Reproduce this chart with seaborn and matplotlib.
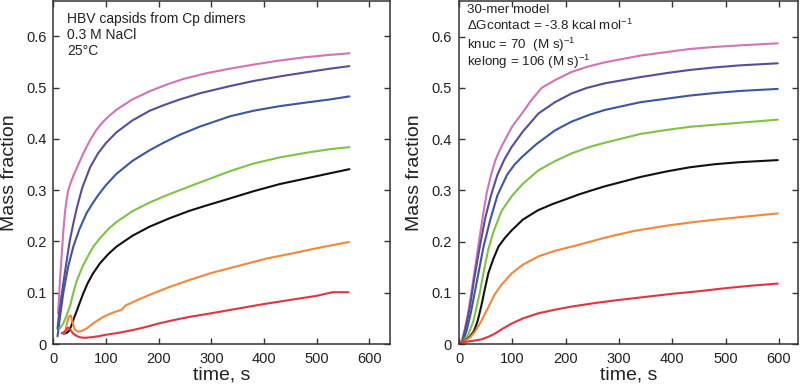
import matplotlib
matplotlib.use("Agg")
import matplotlib.pyplot as plt
from matplotlib.ticker import FuncFormatter
import seaborn as sns

# experiment (left panel): time in s, mass fraction
exp_pink_t = [9, 11, 13, 16, 19, 22, 25, 28, 32, 38, 44, 57, 70, 82, 95, 105, 120, 150, 183, 215, 247, 290, 335, 380, 430, 475, 525, 562]
exp_pink_v = [0.06, 0.095, 0.13, 0.175, 0.22, 0.255, 0.28, 0.298, 0.312, 0.328, 0.342, 0.372, 0.398, 0.418, 0.434, 0.444, 0.457, 0.477, 0.493, 0.506, 0.517, 0.528, 0.537, 0.545, 0.553, 0.559, 0.564, 0.567]
exp_purple_t = [8, 11, 15, 20, 25, 31, 38, 45, 55, 70, 85, 100, 120, 150, 183, 210, 240, 278, 335, 380, 430, 480, 525, 562]
exp_purple_v = [0.03, 0.06, 0.09, 0.125, 0.16, 0.2, 0.235, 0.267, 0.305, 0.345, 0.372, 0.392, 0.413, 0.436, 0.455, 0.466, 0.477, 0.489, 0.503, 0.513, 0.522, 0.530, 0.537, 0.542]
exp_blue_t = [8, 13, 19, 28, 38, 50, 63, 75, 85, 100, 120, 150, 183, 210, 240, 278, 335, 380, 430, 480, 525, 562]
exp_blue_v = [0.015, 0.055, 0.10, 0.15, 0.19, 0.225, 0.255, 0.275, 0.29, 0.31, 0.332, 0.357, 0.378, 0.393, 0.408, 0.424, 0.444, 0.455, 0.464, 0.471, 0.477, 0.483]
exp_green_t = [12, 19, 25, 32, 38, 44, 55, 65, 76, 90, 105, 120, 150, 183, 210, 240, 278, 335, 380, 430, 480, 525, 562]
exp_green_v = [0.03, 0.04, 0.055, 0.075, 0.1, 0.122, 0.15, 0.17, 0.19, 0.208, 0.225, 0.238, 0.259, 0.276, 0.288, 0.30, 0.315, 0.337, 0.352, 0.364, 0.373, 0.380, 0.384]
exp_black_t = [20, 26, 30, 34, 38, 45, 50, 57, 65, 75, 89, 105, 120, 150, 183, 220, 259, 290, 329, 380, 430, 480, 525, 562]
exp_black_v = [0.02, 0.022, 0.026, 0.035, 0.047, 0.066, 0.08, 0.099, 0.118, 0.137, 0.158, 0.176, 0.19, 0.211, 0.229, 0.245, 0.26, 0.27, 0.282, 0.298, 0.312, 0.323, 0.333, 0.341]
exp_orange_t = [16, 22, 26, 29, 33, 37, 41, 47, 55, 63, 78, 95, 110, 130, 137, 160, 183, 220, 259, 298, 350, 406, 450, 501, 561]
exp_orange_v = [0.021, 0.022, 0.04, 0.053, 0.056, 0.04, 0.028, 0.024, 0.026, 0.03, 0.042, 0.053, 0.06, 0.067, 0.075, 0.086, 0.096, 0.111, 0.125, 0.138, 0.152, 0.167, 0.176, 0.187, 0.199]
exp_red_t = [16, 22, 28, 33, 38, 44, 51, 60, 70, 85, 100, 125, 150, 175, 200, 230, 259, 300, 350, 400, 450, 500, 530, 560]
exp_red_v = [0.021, 0.024, 0.032, 0.027, 0.02, 0.016, 0.013, 0.012, 0.013, 0.015, 0.018, 0.022, 0.027, 0.033, 0.040, 0.047, 0.053, 0.06, 0.069, 0.078, 0.086, 0.094, 0.101, 0.101]

# 30-mer model (right panel)
mod_pink_t = [0, 5, 10, 17, 26, 36, 44, 52, 60, 68, 77, 86, 100, 118, 135, 155, 180, 211, 240, 274, 340, 390, 433, 480, 527, 598]
mod_pink_v = [0.002, 0.005, 0.025, 0.06, 0.12, 0.19, 0.245, 0.295, 0.33, 0.358, 0.38, 0.398, 0.425, 0.45, 0.475, 0.50, 0.515, 0.531, 0.541, 0.55, 0.563, 0.570, 0.576, 0.58, 0.583, 0.587]
mod_purple_t = [0, 6, 12, 20, 29, 39, 49, 60, 72, 85, 99, 120, 149, 180, 211, 240, 274, 340, 390, 433, 480, 527, 598]
mod_purple_v = [0.002, 0.005, 0.03, 0.07, 0.13, 0.19, 0.245, 0.29, 0.33, 0.36, 0.385, 0.415, 0.45, 0.472, 0.489, 0.500, 0.509, 0.521, 0.529, 0.535, 0.54, 0.544, 0.548]
mod_blue_t = [0, 7, 14, 22, 34, 46, 58, 72, 90, 104, 118, 145, 180, 211, 246, 274, 340, 390, 433, 480, 527, 598]
mod_blue_v = [0.002, 0.005, 0.025, 0.06, 0.125, 0.19, 0.24, 0.29, 0.33, 0.35, 0.365, 0.39, 0.417, 0.434, 0.448, 0.457, 0.472, 0.479, 0.485, 0.490, 0.494, 0.498]
mod_green_t = [0, 10, 18, 27, 39, 47, 55, 65, 80, 100, 120, 149, 180, 211, 246, 274, 340, 390, 433, 480, 527, 598]
mod_green_v = [0.002, 0.008, 0.02, 0.045, 0.1, 0.145, 0.185, 0.22, 0.26, 0.29, 0.313, 0.339, 0.357, 0.372, 0.385, 0.393, 0.41, 0.418, 0.424, 0.428, 0.432, 0.438]
mod_black_t = [0, 10, 20, 28, 35, 42, 48, 55, 64, 74, 86, 99, 120, 148, 175, 199, 225, 246, 274, 300, 340, 390, 433, 480, 527, 598]
mod_black_v = [0.002, 0.006, 0.014, 0.025, 0.045, 0.075, 0.105, 0.138, 0.165, 0.19, 0.207, 0.222, 0.243, 0.261, 0.273, 0.282, 0.292, 0.299, 0.308, 0.315, 0.326, 0.337, 0.345, 0.351, 0.355, 0.359]
mod_orange_t = [0, 10, 21, 30, 42, 55, 67, 80, 99, 120, 149, 180, 211, 240, 283, 330, 389, 440, 483, 540, 598]
mod_orange_v = [0.002, 0.005, 0.013, 0.024, 0.045, 0.072, 0.097, 0.116, 0.138, 0.155, 0.171, 0.182, 0.19, 0.198, 0.21, 0.221, 0.231, 0.238, 0.243, 0.249, 0.255]
mod_red_t = [0, 11, 25, 42, 55, 67, 82, 99, 120, 149, 180, 211, 255, 300, 350, 400, 450, 500, 550, 598]
mod_red_v = [0.002, 0.004, 0.006, 0.009, 0.014, 0.02, 0.03, 0.04, 0.05, 0.06, 0.067, 0.073, 0.08, 0.086, 0.092, 0.098, 0.103, 0.109, 0.114, 0.118]

colors = ["#d273b6", "#5a4b9b", "#3c55a5", "#7fc244", "#111111", "#f5863a", "#e2343f"]

exp_series = [(exp_pink_t, exp_pink_v), (exp_purple_t, exp_purple_v), (exp_blue_t, exp_blue_v),
              (exp_green_t, exp_green_v), (exp_black_t, exp_black_v), (exp_orange_t, exp_orange_v),
              (exp_red_t, exp_red_v)]
mod_series = [(mod_pink_t, mod_pink_v), (mod_purple_t, mod_purple_v), (mod_blue_t, mod_blue_v),
              (mod_green_t, mod_green_v), (mod_black_t, mod_black_v), (mod_orange_t, mod_orange_v),
              (mod_red_t, mod_red_v)]

exp_text = ["HBV capsids from Cp dimers", "0.3 M NaCl", "25\u00b0C"]
mod_text = ["30-mer model", "\u0394Gcontact = -3.8 kcal mol$^{-1}$",
            "knuc = 70  (M s)$^{-1}$", "kelong = 106 (M s)$^{-1}$"]

sns.set_style("ticks")
plt.rcParams['font.family'] = ['Liberation Sans', 'DejaVu Sans']
plt.rcParams['mathtext.fontset'] = 'custom'
plt.rcParams['mathtext.rm'] = 'Liberation Sans'
plt.rcParams['mathtext.it'] = 'Liberation Sans:italic'
plt.rcParams['mathtext.bf'] = 'Liberation Sans:bold'

W, H = 800, 387
fig = plt.figure(figsize=(8, 3.87), dpi=100)
ax1 = fig.add_axes([53.3 / W, 1 - 344 / H, (390 - 53.3) / W, 343.5 / H])
ax2 = fig.add_axes([459 / W, 1 - 344 / H, (798 - 459) / W, 343.5 / H])


def fmt_y(v, p):
    return "0" if abs(v) < 1e-9 else f"{v:.1f}"


def style_axis(ax, xmax, ymax):
    ax.set_xlim(0, xmax)
    ax.set_ylim(0, ymax)
    ax.set_xticks([0, 100, 200, 300, 400, 500, 600])
    ax.set_yticks([0, 0.1, 0.2, 0.3, 0.4, 0.5, 0.6])
    ax.yaxis.set_major_formatter(FuncFormatter(fmt_y))
    ax.tick_params(direction="in", top=True, right=True, length=4, width=1,
                   color="#333333", labelsize=10.5, labelcolor="#222222")
    ax.tick_params(axis="x", pad=6)
    ax.tick_params(axis="y", pad=5)
    for s in ax.spines.values():
        s.set_visible(True)
        s.set_color("#333333")
        s.set_linewidth(1.1)
    ax.set_xlabel("time, s", fontsize=14, labelpad=0, color="#222222")
    ax.set_ylabel("Mass fraction", fontsize=14, labelpad=6, color="#222222")


for ax, series in [(ax1, exp_series), (ax2, mod_series)]:
    for (t, v), c in zip(series, colors):
        sns.lineplot(x=t, y=v, color=c, linewidth=1.5, estimator=None, sort=False, ax=ax)

style_axis(ax1, 639, 0.670)
style_axis(ax2, 636, 0.6706)

for i, line in enumerate(exp_text):
    fig.text(67 / W, 1 - (23 + 16 * i) / H, line, fontsize=10, color="#222222", va="baseline")
mod_base = [13, 30.5, 48.5, 66]
for b, line in zip(mod_base, mod_text):
    fig.text(467 / W, 1 - b / H, line, fontsize=9.6, color="#222222", va="baseline")

fig.savefig("out.png", dpi=100)
